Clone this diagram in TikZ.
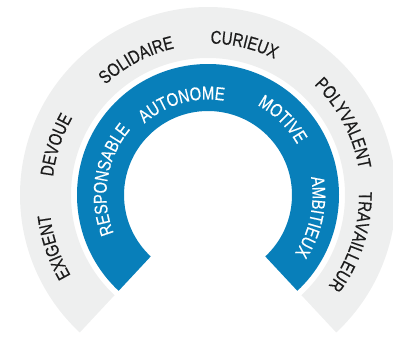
\documentclass[tikz,border=0pt]{standalone}
\usepackage{fontspec}
\setmainfont{Liberation Sans}[FakeStretch=0.8,FakeBold=0.4]
\usetikzlibrary{decorations.text}
\definecolor{ringblue}{RGB}{8,127,186}
\definecolor{ringgray}{RGB}{238,239,239}
\definecolor{wordgray}{RGB}{28,28,28}
\newcommand\wordfont{\fontsize{18.5}{18.5}\selectfont}

\begin{document}
\begin{tikzpicture}[x=1pt,y=1pt,
  word/.style={decorate,decoration={text along path,text align=center,text color=#1}}]
\useasboundingbox (-208,-143) rectangle (185,195);
% rings
\fill[ringgray] (227:188) arc[start angle=227,end angle=-47,radius=188]
   -- (-47:137) arc[start angle=-47,end angle=227,radius=137] -- cycle;
\fill[ringblue] (227:131) arc[start angle=227,end angle=-47,radius=131]
   -- (-47:84) arc[start angle=-47,end angle=227,radius=84] -- cycle;
% outer words
\foreach \a/\r/\w in %
{198.7/159/EXIGENT,161.8/156/DEVOUE,117.9/150.5/SOLIDAIRE,76.5/151.5/CURIEUX,27.9/153/POLYVALENT,-18/151/TRAVAILLEUR} {
   \path[word=wordgray,decoration={text/.expanded={|\noexpand\wordfont|\w}}]
      (\a+50:\r) arc[start angle=\a+50,end angle=\a-50,radius=\r];
}
% inner words
\foreach \a/\r/\w in %
{171/101.5/RESPONSABLE,106/95.5/AUTONOME,45.4/102.5/MOTIVE,-12/104.5/AMBITIEUX} {
   \path[word=white,decoration={text/.expanded={|\noexpand\wordfont|\w}}]
      (\a+60:\r) arc[start angle=\a+60,end angle=\a-60,radius=\r];
}
\end{tikzpicture}
\end{document}
